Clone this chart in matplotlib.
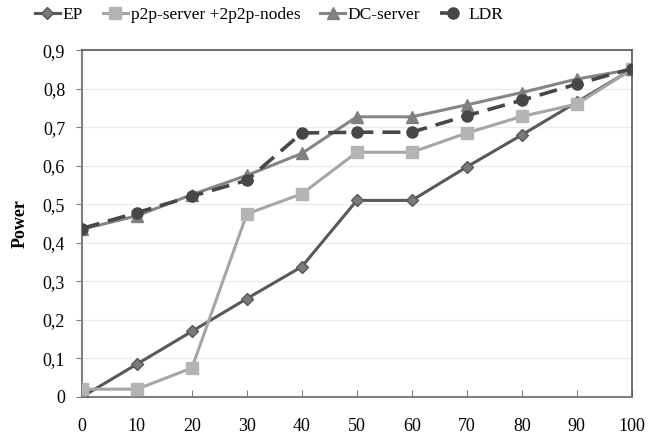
import matplotlib
matplotlib.use("Agg")
import matplotlib.pyplot as plt
from matplotlib.ticker import FuncFormatter

plt.rcParams['font.family'] = ['Liberation Serif', 'DejaVu Serif']

x = [0, 10, 20, 30, 40, 50, 60, 70, 80, 90, 100]
ep = [0.0, 0.085, 0.17, 0.255, 0.338, 0.51, 0.51, 0.597, 0.68, 0.765, 0.85]
p2p = [0.02, 0.02, 0.075, 0.475, 0.527, 0.635, 0.635, 0.685, 0.728, 0.76, 0.85]
dc = [0.435, 0.47, 0.525, 0.575, 0.632, 0.727, 0.727, 0.758, 0.79, 0.825, 0.85]
ldr = [0.437, 0.478, 0.521, 0.562, 0.685, 0.687, 0.687, 0.73, 0.77, 0.812, 0.852]
labels = ['EP', 'p2p-server +2p2p-nodes', 'DC-server', 'LDR']

fig = plt.figure(figsize=(6.5, 4.4), dpi=100)
ax = fig.add_axes([0.126, 0.098, 0.846, 0.788])

ax.plot(x, ep, color='#595959', lw=2.2, marker='D', ms=6, mfc='#7a7a7a', mec='#595959', label=labels[0], zorder=3)
ax.plot(x, p2p, color='#a6a6a6', lw=2.2, marker='s', ms=8, mfc='#b4b4b4', mec='#b4b4b4', label=labels[1], zorder=3)
ax.plot(x, dc, color='#858585', lw=2.2, marker='^', ms=8, mfc='#808080', mec='#808080', label=labels[2], zorder=3)
ax.plot(x, ldr, color='#474747', lw=2.6, ls=(0, (5, 2.5)), marker='o', ms=8, mfc='#474747', mec='#474747', label=labels[3], zorder=4)

ax.set_xlim(0, 100)
ax.set_ylim(0, 0.9)
ax.set_xticks(x)
ax.set_yticks([i / 10 for i in range(10)])
ax.yaxis.set_major_formatter(FuncFormatter(lambda v, p: '0' if abs(v) < 1e-9 else f'{v:.1f}'.replace('.', ',')))
ax.grid(axis='y', color='#ececec', lw=1)
ax.set_axisbelow(True)

for s in ['left', 'bottom']:
    ax.spines[s].set_color('#7f7f7f')
    ax.spines[s].set_linewidth(1.5)
for s in ['top', 'right']:
    ax.spines[s].set_color('#555555')
    ax.spines[s].set_linewidth(1.2)

ax.tick_params(axis='x', direction='in', length=5, color='#7f7f7f', labelsize=13, pad=15)
ax.tick_params(axis='y', direction='out', length=4, color='#7f7f7f', labelsize=13, pad=8)
ax.set_ylabel('Power', fontsize=13, fontweight='bold', labelpad=10)

fig.legend(loc='upper left', bbox_to_anchor=(0.04, 1.005), ncol=4, frameon=False,
           fontsize=12.5, handlelength=1.45, handletextpad=0.15, columnspacing=1.15, borderaxespad=0.1)

fig.savefig('out.png', dpi=100)
